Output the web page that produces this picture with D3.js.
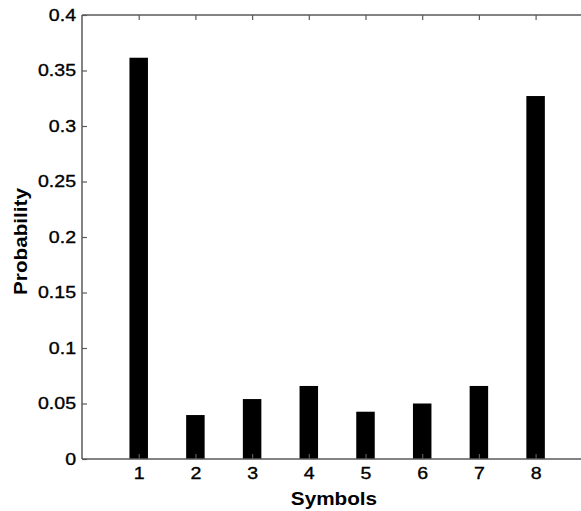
<!DOCTYPE html>
<html><head><meta charset="utf-8">
<script src="https://cdn.jsdelivr.net/npm/d3@7"></script>
<style>body{margin:0;background:#fff}svg{display:block}text{font-family:"Liberation Sans",Arial,sans-serif}</style>
</head><body><svg id="c" width="581" height="511"></svg>
<script>
const categories = [1, 2, 3, 4, 5, 6, 7, 8];
const probabilities = [0.3615, 0.0396, 0.054, 0.0658, 0.0426, 0.050, 0.0658, 0.327];
const yTicks = [0, 0.05, 0.1, 0.15, 0.2, 0.25, 0.3, 0.35, 0.4];
const yTickLabels = ["0", "0.05", "0.1", "0.15", "0.2", "0.25", "0.3", "0.35", "0.4"];

(function () {
const svg = d3.select("#c");
const L = 82, T = 15, B = 459;
const x = d3.scaleLinear().domain([0, 9]).range([L, L + 9 * 56.7]);
const y = d3.scaleLinear().domain([0, 0.4]).range([B, T]);
const R = x(9);
const axisColor = "#5a5a5a";
const barW = 18.5;
const stretch = 1.15;

// bars
svg.append("g").selectAll("rect").data(categories).join("rect")
  .attr("x", (d) => x(d) - barW / 2)
  .attr("y", (d, i) => y(probabilities[i]))
  .attr("width", barW)
  .attr("height", (d, i) => y(0) - y(probabilities[i]))
  .attr("fill", "#000");

// axes
const fs = 17;
const gLeft = svg.append("g").attr("transform", `translate(${L},0)`)
  .call(d3.axisLeft(y).tickValues(yTicks).tickFormat((d, i) => yTickLabels[i]).tickSizeInner(-5).tickSizeOuter(0).tickPadding(6));
const gBottom = svg.append("g").attr("transform", `translate(0,${B})`)
  .call(d3.axisBottom(x).tickValues(categories).tickFormat(d3.format("d")).tickSizeInner(-5).tickSizeOuter(0).tickPadding(8));
const gTop = svg.append("g").attr("transform", `translate(0,${T})`)
  .call(d3.axisTop(x).tickValues(categories).tickFormat("").tickSizeInner(-5).tickSizeOuter(0));
const gRight = svg.append("g").attr("transform", `translate(${R},0)`)
  .call(d3.axisRight(y).tickValues(yTicks).tickFormat("").tickSizeInner(-5).tickSizeOuter(0));
[gLeft, gBottom, gTop, gRight].forEach(g => {
  g.select(".domain").attr("stroke", axisColor).attr("stroke-width", 1.5);
  g.selectAll(".tick line").attr("stroke", axisColor).attr("stroke-width", 1.2);
  g.selectAll(".tick text").attr("fill", "#000").attr("stroke", "#000").attr("stroke-width", 0.35)
    .style("font-size", fs + "px").attr("font-family", null);
});
gLeft.select(".domain").attr("d", `M0,${T}V${B}`);
gBottom.select(".domain").attr("d", `M${L},0H${R}`);
gTop.select(".domain").attr("d", `M${L},0H${R}`);

// axis labels
svg.append("text").attr("class", "lab").attr("x", 334).attr("y", 505)
  .attr("text-anchor", "middle").attr("font-weight", "bold").style("font-size", "18px").text("Symbols");
svg.append("text").attr("class", "lab").attr("transform", `translate(27,241.5) rotate(-90)`)
  .attr("text-anchor", "middle").attr("font-weight", "bold").style("font-size", "18px").text("Probability");

// horizontal stretch to match the reference rendering
svg.selectAll("text").each(function () {
  const len = this.getComputedTextLength();
  d3.select(this).attr("textLength", len * stretch).attr("lengthAdjust", "spacingAndGlyphs");
});
})();
</script></body></html>
